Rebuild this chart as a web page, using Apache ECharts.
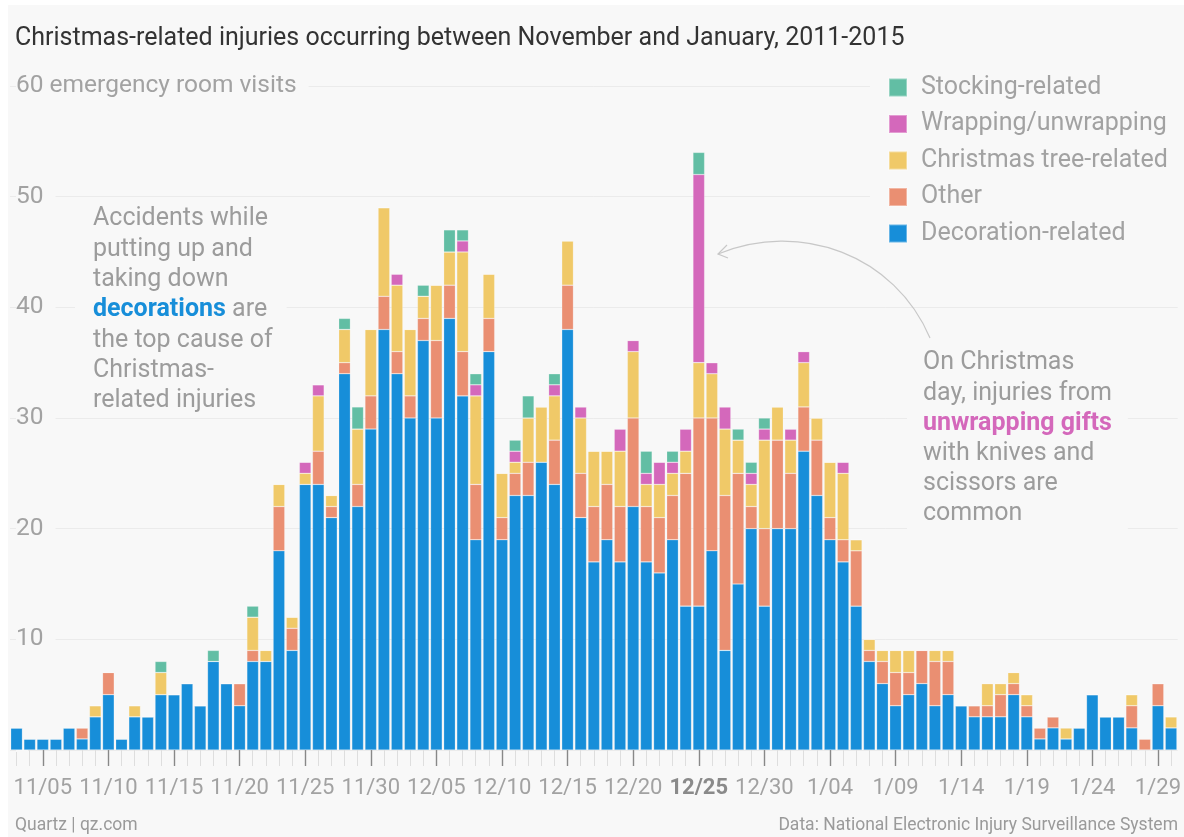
<!DOCTYPE html>
<html>
<head>
<meta charset="utf-8">
<script src="https://cdn.jsdelivr.net/npm/echarts@6/dist/echarts.min.js"></script>
<style>
  html, body { margin: 0; padding: 0; background: #fff; }
  #chart { width: 1184px; height: 837px; }
</style>
</head>
<body>
<div id="chart"></div>
<script>
const days = [
  '11/03','11/04','11/05','11/06','11/07','11/08','11/09','11/10','11/11','11/12',
  '11/13','11/14','11/15','11/16','11/17','11/18','11/19','11/20','11/21','11/22',
  '11/23','11/24','11/25','11/26','11/27','11/28','11/29','11/30','12/01','12/02',
  '12/03','12/04','12/05','12/06','12/07','12/08','12/09','12/10','12/11','12/12',
  '12/13','12/14','12/15','12/16','12/17','12/18','12/19','12/20','12/21','12/22',
  '12/23','12/24','12/25','12/26','12/27','12/28','12/29','12/30','12/31','1/01',
  '1/02','1/03','1/04','1/05','1/06','1/07','1/08','1/09','1/10','1/11',
  '1/12','1/13','1/14','1/15','1/16','1/17','1/18','1/19','1/20','1/21',
  '1/22','1/23','1/24','1/25','1/26','1/27','1/28','1/29','1/30'
]

// bottom to top of each stack
const decoration = [
  2,1,1,1,2,1,3,5,1,3, 3,5,5,6,4,8,6,4,8,8,
  18,9,24,24,21,34,22,29,38,34, 30,37,30,39,32,19,36,19,23,23,
  26,24,38,21,17,19,17,22,17,16, 19,13,13,18,9,15,20,13,20,20,
  27,23,19,17,13,8,6,4,5,6, 4,5,4,3,3,3,5,3,1,2,
  1,2,5,3,3,2,0,4,2
]
const other = [
  0,0,0,0,0,1,0,2,0,0, 0,0,0,0,0,0,0,2,1,0,
  4,2,0,3,1,1,2,3,3,2, 2,2,7,3,4,5,3,2,2,3,
  0,4,4,4,5,5,5,8,5,5, 4,12,17,12,14,10,2,7,8,5,
  4,5,2,2,5,1,2,3,2,3, 4,3,0,1,1,2,1,1,1,1,
  0,0,0,0,0,2,1,2,0
]
const tree = [
  0,0,0,0,0,0,1,0,0,1, 0,2,0,0,0,0,0,0,3,1,
  2,1,1,5,1,3,5,6,8,6, 6,2,5,3,9,8,4,4,1,4,
  5,4,4,5,5,3,5,6,2,3, 2,2,5,4,6,3,2,8,3,3,
  4,2,5,6,1,1,1,2,2,0, 1,1,0,0,2,1,1,1,0,0,
  1,0,0,0,0,1,0,0,1
]
const wrapping = [
  0,0,0,0,0,0,0,0,0,0, 0,0,0,0,0,0,0,0,0,0,
  0,0,1,1,0,0,0,0,0,1, 0,0,0,0,1,1,0,0,1,0,
  0,1,0,1,0,0,2,1,1,2, 1,2,17,1,2,0,1,1,0,1,
  1,0,0,1,0,0,0,0,0,0, 0,0,0,0,0,0,0,0,0,0,
  0,0,0,0,0,0,0,0,0
]
const stocking = [
  0,0,0,0,0,0,0,0,0,0, 0,1,0,0,0,1,0,0,1,0,
  0,0,0,0,0,1,2,0,0,0, 0,1,0,2,1,1,0,0,1,2,
  0,1,0,0,0,0,0,0,2,0, 1,0,2,0,0,1,1,1,0,0,
  0,0,0,0,0,0,0,0,0,0, 0,0,0,0,0,0,0,0,0,0,
  0,0,0,0,0,0,0,0,0
]
const yTicks = [0, 10, 20, 30, 40, 50, 60]

const names = ['Decoration-related', 'Other', 'Christmas tree-related', 'Wrapping/unwrapping', 'Stocking-related']
const colors = ['#178ed9', '#ea8f72', '#f0c968', '#d468bb', '#62bea4']
const values = [decoration, other, tree, wrapping, stocking]

const bg = '#f8f8f8'
const grey = '#a2a2a2'
const font = 'Roboto, "Noto Sans", sans-serif'
const isMajor = (i) => (i - 2) % 5 === 0

const chart = echarts.init(document.getElementById('chart'))

const series = names.map((name, k) => ({
  name: name,
  type: 'bar',
  stack: 'all',
  xAxisIndex: 0,
  barCategoryGap: '11%',
  itemStyle: {color: colors[k], borderColor: 'rgba(255,255,255,0.35)', borderWidth: 0.6},
  data: values[k]
}))

const option = {
  backgroundColor: '#fff',
  animation: false,
  textStyle: {fontFamily: font},
  title: {
    text: 'Christmas-related injuries occurring between November and January, 2011-2015',
    left: 15,
    top: 26,
    padding: 0,
    textStyle: {fontSize: 25, fontWeight: 'normal', color: '#333', fontFamily: font}
  },
  legend: {
    orient: 'vertical',
    left: 870,
    top: 67,
    padding: [8, 20, 8, 18],
    backgroundColor: bg,
    itemWidth: 18,
    itemHeight: 18,
    itemGap: 11.5,
    icon: 'rect',
    data: ['Stocking-related', 'Wrapping/unwrapping', 'Christmas tree-related', 'Other', 'Decoration-related'],
    textStyle: {fontSize: 25, color: grey, fontFamily: font, padding: [0, 0, 0, 9]}
  },
  grid: {left: 10, right: 0, top: 86, bottom: 87},
  xAxis: [
    {
      type: 'category',
      data: days,
      axisLine: {show: false},
      axisTick: {show: true, interval: 0, alignWithLabel: true, length: 16, lineStyle: {color: '#dedede'}},
      axisLabel: {show: false}
    },
    {
      type: 'category',
      data: days,
      position: 'bottom',
      axisLine: {show: false},
      axisTick: {show: true, interval: isMajor, alignWithLabel: true, length: 16, lineStyle: {color: '#888', width: 1.4}},
      axisLabel: {
        interval: isMajor,
        margin: 27,
        fontSize: 22,
        color: grey,
        fontFamily: font,
        formatter: (v) => v === '12/25' ? '{b|12/25}' : v,
        rich: {b: {fontSize: 22, fontWeight: 'bold', color: '#8a8a8a', fontFamily: font}}
      }
    }
  ],
  yAxis: {
    type: 'value',
    min: yTicks[0],
    max: yTicks[yTicks.length - 1],
    interval: 10,
    axisLine: {show: false},
    axisTick: {show: false},
    splitLine: {lineStyle: {color: '#ebebeb', width: 1}},
    axisLabel: {
      inside: true,
      margin: 6,
      fontSize: 24.5,
      color: grey,
      fontFamily: font,
      backgroundColor: bg,
      padding: [4, 12, 0, 0],
      formatter: (v) => v === 0 ? '' : (v === 60 ? '60 emergency room visits' : String(v))
    }
  },
  graphic: [
    {type: 'rect', z: -10, shape: {x: 8, y: 5, width: 1176, height: 832}, style: {fill: bg}},
    {
      type: 'text', left: 75, top: 204, z: 5,
      style: {
        text: 'Accidents while\nputting up and\ntaking down\n{b|decorations} are\nthe top cause of\nChristmas-\nrelated injuries',
        font: '25px ' + font,
        fill: '#9c9c9c',
        lineHeight: 30.3,
        backgroundColor: bg,
        padding: [0, 14, 0, 18],
        rich: {b: {font: 'bold 25px ' + font, fill: '#178ed9', lineHeight: 30.3}}
      }
    },
    {
      type: 'text', left: 907, top: 348, z: 5,
      style: {
        text: 'On Christmas\nday, injuries from\n{p|unwrapping gifts}\nwith knives and\nscissors are\ncommon',
        font: '25px ' + font,
        fill: '#9c9c9c',
        lineHeight: 30.2,
        backgroundColor: bg,
        padding: [0, 16, 0, 16],
        rich: {p: {font: 'bold 25px ' + font, fill: '#d468bb', lineHeight: 30.2}}
      }
    },
    {
      type: 'bezierCurve', z: 5,
      shape: {x1: 930, y1: 338, cpx1: 895, cpy1: 255, cpx2: 800, cpy2: 220, x2: 718, y2: 254},
      style: {stroke: '#c8c8c8', lineWidth: 1.2, fill: null}
    },
    {
      type: 'polyline', z: 5,
      shape: {points: [[727, 245], [718, 254], [728, 258]]},
      style: {stroke: '#c8c8c8', lineWidth: 1.2, fill: null}
    },
    {
      type: 'text', left: 15, top: 817,
      style: {text: 'Quartz | qz.com', font: '17.5px ' + font, fill: '#9a9a9a'}
    },
    {
      type: 'text', right: 6, top: 817,
      style: {text: 'Data: National Electronic Injury Surveillance System', font: '17.5px ' + font, fill: '#9a9a9a'}
    }
  ],
  series: series
}
chart.setOption(option)
</script>
</body>
</html>
